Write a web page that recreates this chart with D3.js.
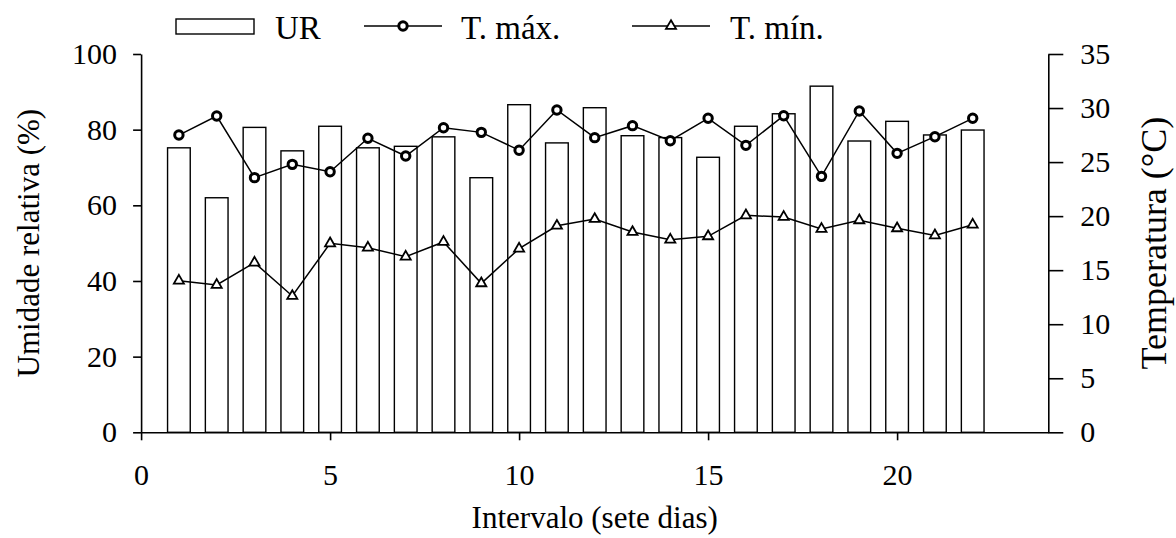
<!DOCTYPE html>
<html>
<head>
<meta charset="utf-8">
<script src="https://cdn.jsdelivr.net/npm/d3@7"></script>
<style>
  html, body { margin: 0; padding: 0; background: #fff; }
  svg { display: block; }
  text { font-family: "Liberation Serif", "Times New Roman", serif; fill: #000; }
</style>
</head>
<body>
<svg id="chart" width="1176" height="538"></svg>
<script>
// ---- data ----
const intervals = [1,2,3,4,5,6,7,8,9,10,11,12,13,14,15,16,17,18,19,20,21,22];
const urValues = [75.2,62.0,80.6,74.4,80.9,75.2,75.6,78.1,67.3,86.6,76.5,85.8,78.4,77.9,72.7,80.9,84.2,91.5,77.0,82.2,78.6,79.9];
const tMax = [27.5,29.26,23.56,24.79,24.11,27.2,25.56,28.18,27.75,26.1,29.82,27.26,28.37,26.98,29.05,26.55,29.29,23.68,29.73,25.81,27.35,29.05];
const tMin = [14.03,13.63,15.69,12.61,17.48,17.08,16.25,17.61,13.78,16.99,19.11,19.73,18.53,17.82,18.13,20.07,19.92,18.81,19.61,18.87,18.22,19.21];
const xTicks = [0,5,10,15,20];
const urTicks = [0,20,40,60,80,100];
const tTicks = [0,5,10,15,20,25,30,35];
const legendLabels = ["UR", "T. máx.", "T. mín."];
const xTitle = "Intervalo (sete dias)";
const yLeftTitle = "Umidade relativa (%)";
const yRightTitle = "Temperatura (°C)";

// ---- layout ----
const svg = d3.select("#chart");
const x0 = 141.1, x1 = 1048.3, yBottom = 432.3, yTop = 54;

const x = d3.scaleLinear().domain([0, 24]).range([x0, x1]);
const yL = d3.scaleLinear().domain([0, 100]).range([yBottom, yTop]);
const yR = d3.scaleLinear().domain([0, 35]).range([yBottom, yTop]);
const barW = x(0.6) - x(0);

// bars
svg.append("g").selectAll("rect").data(intervals).join("rect")
  .attr("x", (d) => x(d) - barW / 2)
  .attr("y", (d, i) => yL(urValues[i]))
  .attr("width", barW)
  .attr("height", (d, i) => yBottom - yL(urValues[i]))
  .attr("fill", "#fff")
  .attr("stroke", "#000")
  .attr("stroke-width", 1.4);

// axes
const axisStyle = (g) => {
  g.selectAll("path.domain").attr("stroke", "#000").attr("stroke-width", 1.6);
  g.selectAll(".tick line").attr("stroke", "#000").attr("stroke-width", 1.6);
  g.selectAll(".tick text").style("font-family", "'Liberation Serif', serif").style("font-size", "30px").attr("fill", "#000");
};

svg.append("g").attr("transform", `translate(0,${yBottom})`)
  .call(d3.axisBottom(x).tickValues(xTicks).tickSize(8).tickPadding(23).tickSizeOuter(0).tickFormat(d3.format("d")))
  .call(axisStyle);

svg.append("g").attr("transform", `translate(${x0},0)`)
  .call(d3.axisLeft(yL).tickValues(urTicks).tickSize(8).tickPadding(16).tickSizeOuter(0).tickFormat(d3.format("d")))
  .call(axisStyle);

svg.append("g").attr("transform", `translate(${x1},0)`)
  .call(d3.axisRight(yR).tickValues(tTicks).tickSize(15).tickPadding(17).tickSizeOuter(0).tickFormat(d3.format("d")))
  .call(axisStyle);

// lines
const lineT = d3.line().x((d, i) => x(intervals[i])).y((d) => yR(d));
svg.append("path").datum(tMax).attr("d", lineT)
  .attr("fill", "none").attr("stroke", "#000").attr("stroke-width", 1.5);
svg.append("path").datum(tMin).attr("d", lineT)
  .attr("fill", "none").attr("stroke", "#000").attr("stroke-width", 1.5);

// markers
const tri = d3.symbol().type(d3.symbolTriangle).size(44);
svg.append("g").selectAll("circle").data(tMax).join("circle")
  .attr("cx", (d, i) => x(intervals[i])).attr("cy", (d) => yR(d))
  .attr("r", 4.2).attr("fill", "#fff").attr("stroke", "#000").attr("stroke-width", 3);
svg.append("g").selectAll("path").data(tMin).join("path")
  .attr("d", tri)
  .attr("transform", (d, i) => `translate(${x(intervals[i])},${yR(d)})`)
  .attr("fill", "#fff").attr("stroke", "#000").attr("stroke-width", 1.8);

// titles
svg.append("text").attr("x", (x0 + x1) / 2).attr("y", 528)
  .attr("text-anchor", "middle").style("font-size", "31px").text(xTitle);
svg.append("text").attr("transform", `translate(39,${(yTop + yBottom) / 2}) rotate(-90)`)
  .attr("text-anchor", "middle").style("font-size", "31px").text(yLeftTitle);
svg.append("text").attr("transform", `translate(1166,${(yTop + yBottom) / 2}) rotate(-90)`)
  .attr("text-anchor", "middle").style("font-size", "36px").text(yRightTitle);

// legend
const lg = svg.append("g");
lg.append("rect").attr("x", 176).attr("y", 19).attr("width", 78).attr("height", 15)
  .attr("fill", "#fff").attr("stroke", "#000").attr("stroke-width", 1.4);
lg.append("text").attr("x", 275).attr("y", 39).style("font-size", "33px").text(legendLabels[0]);
lg.append("line").attr("x1", 364).attr("x2", 442).attr("y1", 26).attr("y2", 26)
  .attr("stroke", "#000").attr("stroke-width", 1.5);
lg.append("circle").attr("cx", 403).attr("cy", 26).attr("r", 4.2)
  .attr("fill", "#fff").attr("stroke", "#000").attr("stroke-width", 3);
lg.append("text").attr("x", 461).attr("y", 39).style("font-size", "33px").text(legendLabels[1]);
lg.append("line").attr("x1", 632).attr("x2", 710).attr("y1", 26).attr("y2", 26)
  .attr("stroke", "#000").attr("stroke-width", 1.5);
lg.append("path").attr("d", tri).attr("transform", "translate(671,26)")
  .attr("fill", "#fff").attr("stroke", "#000").attr("stroke-width", 1.8);
lg.append("text").attr("x", 730).attr("y", 39).style("font-size", "33px").text(legendLabels[2]);
</script>
</body>
</html>
